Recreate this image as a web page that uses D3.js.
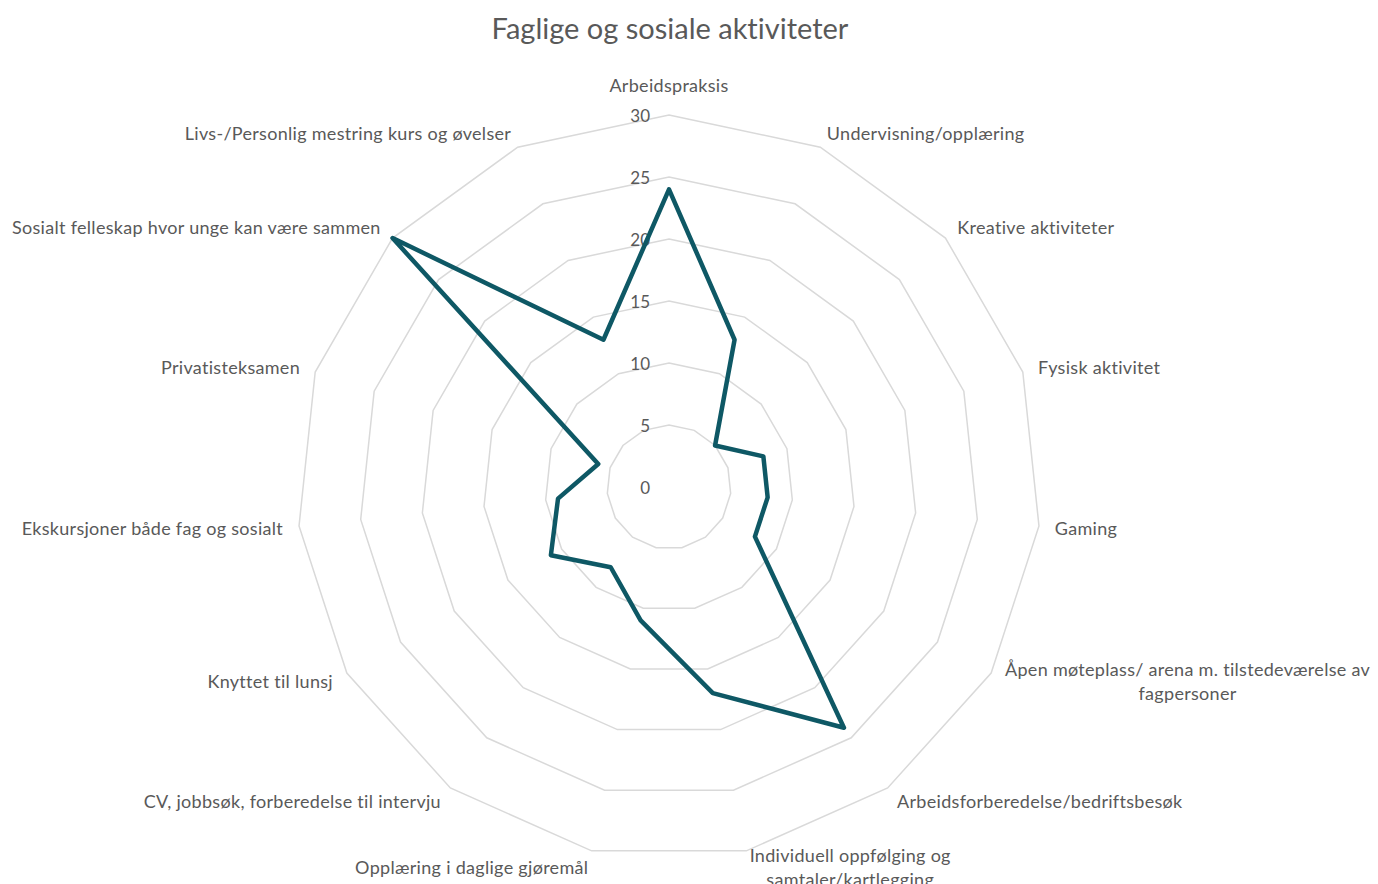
<!DOCTYPE html>
<html>
<head>
<meta charset="utf-8">
<script src="https://cdn.jsdelivr.net/npm/d3@7"></script>
<style>
  html, body { margin: 0; padding: 0; background: #fff; }
  svg { display: block; }
  text { font-variant-ligatures: none; }
</style>
</head>
<body>
<div id="chart"></div>
<script>
// data
const categories = [
  ['Arbeidspraksis'],
  ['Undervisning/opplæring'],
  ['Kreative aktiviteter'],
  ['Fysisk aktivitet'],
  ['Gaming'],
  ['Åpen møteplass/ arena m. tilstedeværelse av', 'fagpersoner'],
  ['Arbeidsforberedelse/bedriftsbesøk'],
  ['Individuell oppfølging og', 'samtaler/kartlegging'],
  ['Opplæring i daglige gjøremål'],
  ['CV, jobbsøk, forberedelse til intervju'],
  ['Knyttet til lunsj'],
  ['Ekskursjoner både fag og sosialt'],
  ['Privatisteksamen'],
  ['Sosialt felleskap hvor unge kan være sammen'],
  ['Livs-/Personlig mestring kurs og øvelser']
];
const values = [24, 13, 5, 8, 8, 8, 24, 17, 11, 8, 11, 9, 6, 30, 13];
const ticks = [0, 5, 10, 15, 20, 25, 30];

const W = 1378, H = 884;
const cx = 669, cy = 487, R = 372;
const font = 'Lato, "Open Sans", sans-serif';
const textCol = '#595959';
const lineCol = '#0e5865';

const svg = d3.select('#chart').append('svg').attr('width', W).attr('height', H);

svg.append('text').attr('x', 670).attr('y', 27)
  .attr('text-anchor', 'middle').attr('dominant-baseline', 'central')
  .style('font-family', font).style('font-size', '29px').style('fill', textCol)
  .text('Faglige og sosiale aktiviteter');

const n = categories.length;
const angle = d3.scaleLinear().domain([0, n]).range([0, 2 * Math.PI]);
const r = d3.scaleLinear().domain([0, 30]).range([0, R]);
const pt = (i, v) => [cx + r(v) * Math.sin(angle(i)), cy - r(v) * Math.cos(angle(i))];

const g = svg.append('g');

// grid rings
ticks.filter(t => t > 0).forEach(t => {
  g.append('path')
    .attr('d', d3.line()(d3.range(n).map(i => pt(i, t))) + 'Z')
    .attr('fill', 'none').attr('stroke', '#d9d9d9').attr('stroke-width', 1.5);
});

// tick labels
g.selectAll('.tick').data(ticks).join('text')
  .attr('x', cx - 19).attr('y', d => cy - r(d))
  .attr('text-anchor', 'end').attr('dominant-baseline', 'central')
  .style('font-family', font).style('font-size', '17px').style('fill', textCol)
  .text(d => d);

// data line
g.append('path')
  .attr('d', d3.line()(values.map((v, i) => pt(i, v))) + 'Z')
  .attr('fill', 'none').attr('stroke', lineCol).attr('stroke-width', 4.5)
  .attr('stroke-linejoin', 'round');

// category labels
const lh = 24;
categories.forEach((lines, i) => {
  const a = angle(i), s = Math.sin(a);
  let [x, y] = [cx + (R + 16) * Math.sin(a), cy - (R + 16) * Math.cos(a)];
  const anchor = Math.abs(s) < 0.1 ? 'middle' : (s > 0 ? 'start' : 'end');
  if (anchor === 'middle') y -= 14;
  const t = g.append('text')
    .style('font-family', font).style('font-size', '18px').style('fill', textCol)
    .style('letter-spacing', '0.3px')
    .attr('dominant-baseline', 'central');
  const spans = lines.map((l, k) => t.append('tspan').text(l)
    .attr('y', y + (k - (lines.length - 1) / 2) * lh));
  const maxW = d3.max(spans, sp => sp.node().getComputedTextLength());
  const mid = anchor === 'start' ? x + maxW / 2 : anchor === 'end' ? x - maxW / 2 : x;
  spans.forEach(sp => sp.attr('x', mid));
  t.attr('text-anchor', 'middle');
});
</script>
</body>
</html>
